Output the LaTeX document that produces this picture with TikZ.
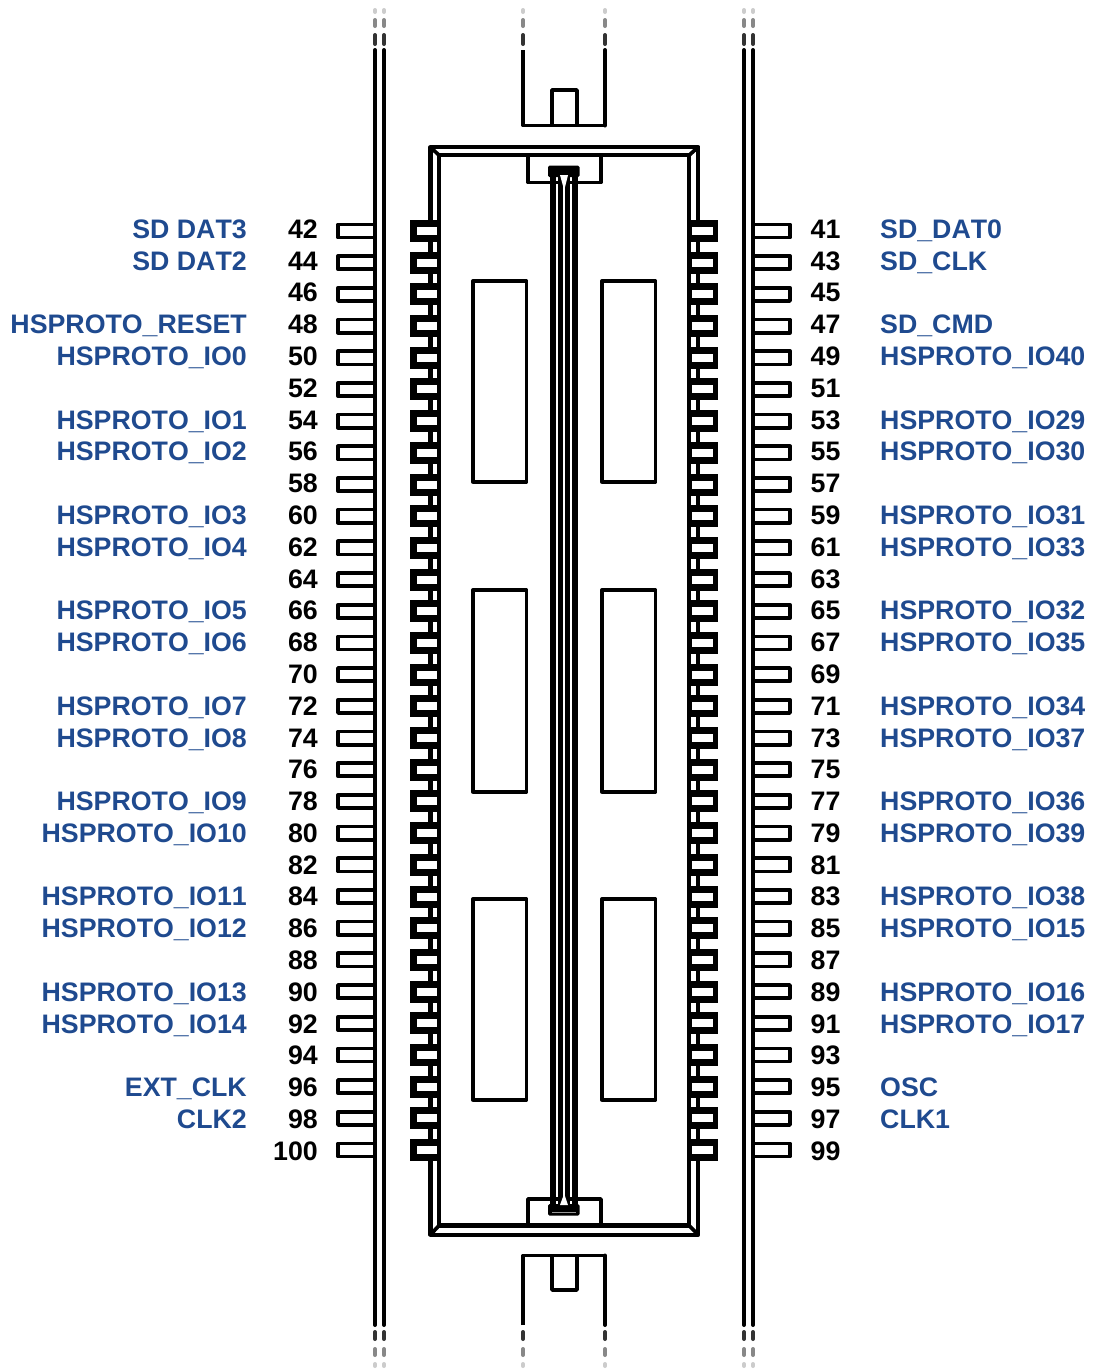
\documentclass[tikz,border=0pt]{standalone}
\usepackage{fontspec}
\setmainfont[Kerning=Off]{Liberation Sans}
\definecolor{sigblue}{HTML}{1F4A8F}
\definecolor{dashdark}{HTML}{333333}
\definecolor{dashmid}{HTML}{888888}
\definecolor{dashlight}{HTML}{CCCCCC}
\tikzset{
  lbl/.style={font=\fontsize{26.75}{27}\selectfont\bfseries,inner sep=0pt,text=sigblue},
  num/.style={font=\fontsize{26.75}{27}\selectfont\bfseries,inner sep=0pt,text=black},
  rail/.style={line width=4pt,line cap=round},
  frame/.style={line width=4.2pt,line join=round},
  thin/.style={line width=3.7pt,line join=round},
  windowbox/.style={line width=3.3pt,line join=round},
}
\begin{document}
\begin{tikzpicture}[x=1pt,y=-1pt]
\useasboundingbox (0,0) rectangle (1093,1369);
% rails and fixture verticals with fading dashes
\foreach \x in {375,384,744,753}{
  \draw[rail] (\x,50) -- (\x,1325);
}
\foreach \x in {375,384,523,605,744,753}{
  \draw[rail,dashdark] (\x,35) -- (\x,44);
  \draw[rail,dashmid] (\x,20) -- (\x,26);
  \draw[rail,dashlight] (\x,10) -- (\x,12);
  \draw[rail,dashdark] (\x,1332) -- (\x,1339);
  \draw[rail,dashmid] (\x,1349) -- (\x,1355);
  \draw[rail,dashlight] (\x,1364) -- (\x,1366);
}
% top and bottom fixtures
\draw[thin] (523,50) -- (523,125.5) -- (605,125.5);
\draw[rail] (605,50) -- (605,125.5);
\draw[thin] (552,125.5) -- (552,90) -- (577,90) -- (577,125.5);
\draw[thin] (523,1325) -- (523,1255.5) -- (605,1255.5);
\draw[rail] (605,1325) -- (605,1255.5);
\draw[thin] (552,1255.5) -- (552,1290) -- (577,1290) -- (577,1255.5);
% connector frame
\draw[frame] (430.5,147) rectangle (698.3,1234.7);
\draw[frame] (439,155.3) rectangle (689,1225.5);
\draw[thin] (430.5,147) -- (439,155.3) (698.3,147) -- (689,155.3)
            (430.5,1234.7) -- (439,1225.5) (698.3,1234.7) -- (689,1225.5);
% tabs
\draw[thin] (528,155.3) -- (528,182.5) -- (601,182.5) -- (601,155.3);
\draw[thin] (528,1225.5) -- (528,1199) -- (601,1199) -- (601,1225.5);
% central bar
\fill[rounded corners=1.5pt] (548,165.5) rectangle (579.5,177);
\fill[rounded corners=1.5pt] (548,1204) rectangle (579.5,1215.5);
\fill (549.5,170) rectangle (556,1210);
\fill (558.3,170) rectangle (563.3,1210);
\fill (565,170) rectangle (570,1210);
\fill (572,170) rectangle (578.3,1210);
\fill[white] (560,175) -- (568,175) -- (565,187) -- (563.3,187) -- cycle;
\fill[white] (560,1205) -- (568,1205) -- (565,1196) -- (563.3,1196) -- cycle;
\draw[line width=0.5pt,white!60!black] (552,1212) -- (576,1212);
% windows
\foreach \a/\b in {281/482,590/792,899/1100}{
  \draw[windowbox] (473,\a) rectangle (526.5,\b);
  \draw[windowbox] (602,\a) rectangle (655.5,\b);
}
% pins
\foreach \i in {0,...,29}{
  \pgfmathsetmacro{\y}{231+31.69*\i}
  \fill (410,\y-11) rectangle (441,\y+11);
  \fill[white] (416.5,\y-4) rectangle (437,\y+4);
  \fill (687,\y-11) rectangle (718,\y+11);
  \fill[white] (692,\y-4) rectangle (712.5,\y+4);
  \draw[thin] (375,\y-6.6) -- (338,\y-6.6) -- (338,\y+6.6) -- (375,\y+6.6);
  \draw[thin] (753,\y-6.6) -- (790,\y-6.6) -- (790,\y+6.6) -- (753,\y+6.6);
}
% left numbers
\foreach \n in {42,44,...,100}{
  \pgfmathsetmacro{\y}{229+31.793*(\n-42)/2+9.3}
  \node[num,anchor=base east] (n\n) at (318,\y) {\n};
}
% right numbers
\foreach \n in {41,43,...,99}{
  \pgfmathsetmacro{\y}{229+31.793*(\n-41)/2+9.3}
  \node[num,anchor=base west] (n\n) at (810.5,\y) {\n};
}
% left labels
\foreach \n/\t in {42/SD DAT3,44/SD DAT2,48/HSPROTO\_RESET,50/HSPROTO\_IO0,54/HSPROTO\_IO1,56/HSPROTO\_IO2,60/HSPROTO\_IO3,62/HSPROTO\_IO4,66/HSPROTO\_IO5,68/HSPROTO\_IO6,72/HSPROTO\_IO7,74/HSPROTO\_IO8,78/HSPROTO\_IO9,80/HSPROTO\_IO10,84/HSPROTO\_IO11,86/HSPROTO\_IO12,90/HSPROTO\_IO13,92/HSPROTO\_IO14,96/EXT\_CLK,98/CLK2}{
  \pgfmathsetmacro{\y}{229+31.793*(\n-42)/2+9.3}
  \node[lbl,anchor=base east] (l\n) at (247,\y) {\t};
}
% right labels
\foreach \n/\t in {41/SD\_DAT0,43/SD\_CLK,47/SD\_CMD,49/HSPROTO\_IO40,53/HSPROTO\_IO29,55/HSPROTO\_IO30,59/HSPROTO\_IO31,61/HSPROTO\_IO33,65/HSPROTO\_IO32,67/HSPROTO\_IO35,71/HSPROTO\_IO34,73/HSPROTO\_IO37,77/HSPROTO\_IO36,79/HSPROTO\_IO39,83/HSPROTO\_IO38,85/HSPROTO\_IO15,89/HSPROTO\_IO16,91/HSPROTO\_IO17,95/OSC,97/CLK1}{
  \pgfmathsetmacro{\y}{229+31.793*(\n-41)/2+9.3}
  \node[lbl,anchor=base west] (l\n) at (880,\y) {\t};
}
\end{tikzpicture}
\end{document}
